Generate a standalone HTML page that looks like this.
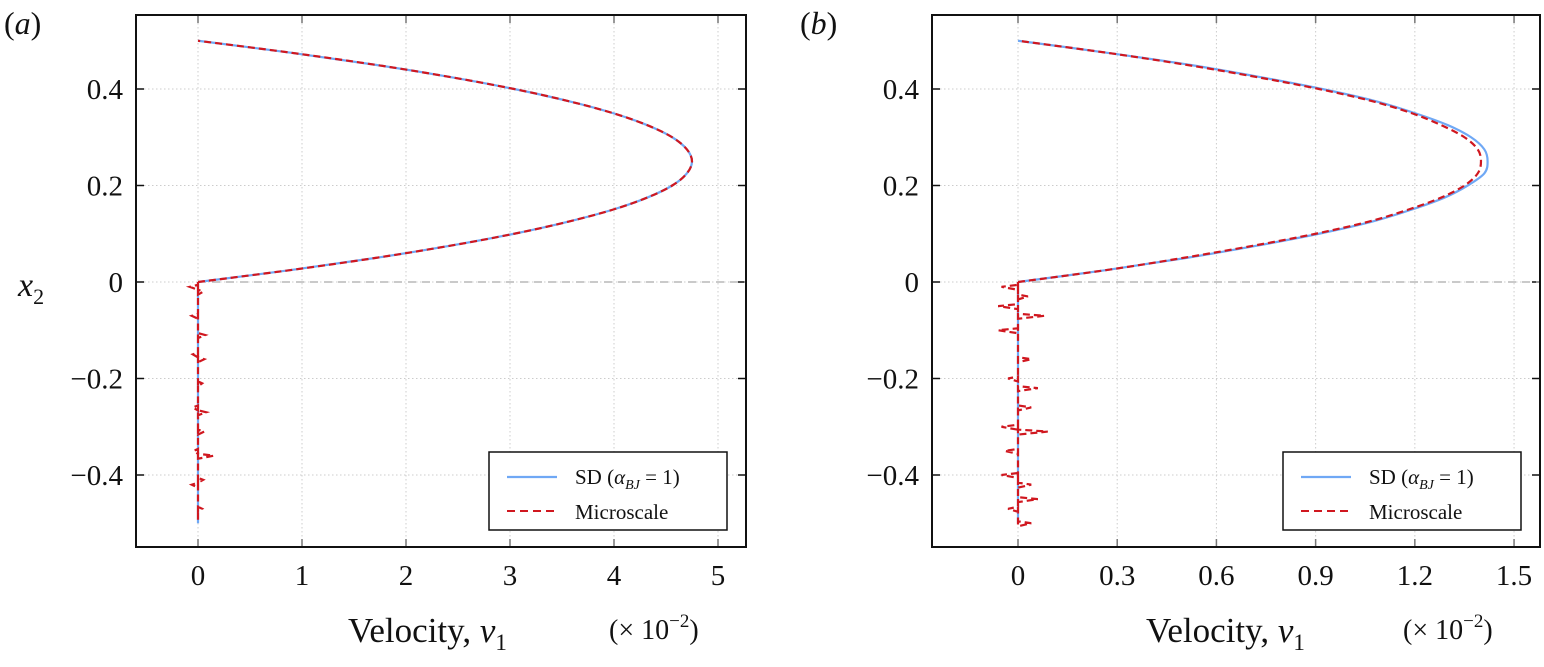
<!DOCTYPE html>
<html><head><meta charset="utf-8"><style>
body{margin:0;background:#fff}
svg text{font-family:"Liberation Serif",serif;fill:#111}
</style></head><body>
<svg id="s" width="1544" height="662" xmlns="http://www.w3.org/2000/svg"></svg>
<script>
const yTicks=[-0.4,-0.2,0,0.2,0.4];
const yTickLabels=["\u22120.4","\u22120.2","0","0.2","0.4"];
const x2Samples=[0,0.025,0.05,0.075,0.1,0.125,0.15,0.175,0.2,0.225,0.25,0.275,0.3,0.325,0.35,0.375,0.4,0.425,0.45,0.475,0.5];
const aTicks=[0,1,2,3,4,5];
const aTickLabels=["0","1","2","3","4","5"];
const aSD=[0,0.90,1.71,2.42,3.04,3.56,3.99,4.32,4.56,4.70,4.75,4.70,4.56,4.32,3.99,3.56,3.04,2.42,1.71,0.90,0];
const aMicro=[0,0.90,1.71,2.42,3.04,3.56,3.99,4.32,4.56,4.70,4.75,4.70,4.56,4.32,3.99,3.56,3.04,2.42,1.71,0.90,0];
const aNoiseY=[-0.01,-0.02,-0.07,-0.11,-0.15,-0.16,-0.21,-0.26,-0.27,-0.31,-0.35,-0.36,-0.41,-0.42,-0.47];
const aNoiseV=[-0.08,0.05,-0.06,0.07,-0.05,0.06,0.04,-0.05,0.08,0.06,-0.04,0.15,0.05,-0.06,0.04];
const bTicks=[0,0.3,0.6,0.9,1.2,1.5];
const bTickLabels=["0","0.3","0.6","0.9","1.2","1.5"];
const bSD=[0,0.27,0.51,0.72,0.91,1.07,1.19,1.29,1.36,1.41,1.42,1.41,1.37,1.30,1.20,1.08,0.92,0.73,0.52,0.27,0];
const bMicro=[0,0.27,0.50,0.71,0.90,1.06,1.18,1.28,1.35,1.39,1.40,1.39,1.35,1.28,1.19,1.07,0.91,0.72,0.51,0.27,0];
const bNoiseY=[-0.01,-0.03,-0.05,-0.07,-0.1,-0.16,-0.2,-0.22,-0.26,-0.3,-0.31,-0.35,-0.4,-0.42,-0.45,-0.47,-0.5];
const bNoiseV=[-0.05,0.03,-0.06,0.08,-0.06,0.04,-0.03,0.06,0.04,-0.05,0.09,-0.04,-0.05,0.04,0.06,-0.03,0.04];

const S=document.getElementById('s');
const NS="http://www.w3.org/2000/svg";
function el(t,a,p){const e=document.createElementNS(NS,t);for(const k in a)e.setAttribute(k,a[k]);(p||S).appendChild(e);return e;}
function spline(pts){let d="M"+pts[0][0]+","+pts[0][1];for(let i=0;i<pts.length-1;i++){const p0=pts[Math.max(0,i-1)],p1=pts[i],p2=pts[i+1],p3=pts[Math.min(pts.length-1,i+2)];d+=` C${p1[0]+(p2[0]-p0[0])/6},${p1[1]+(p2[1]-p0[1])/6} ${p2[0]-(p3[0]-p1[0])/6},${p2[1]-(p3[1]-p1[1])/6} ${p2[0]},${p2[1]}`;}return d;}

function panel(o){
 const L=o.L,R=o.R,T=15,B=547;
 const X=v=>o.x0px+(v-0)*o.k, Y=v=>282-v*482.5;
 const g=el('g',{});
 
 
 o.ticks.forEach((t,i)=>{
  const gl=el('line',{x1:X(t),x2:X(t),y1:T,y2:B,stroke:'#ccc','stroke-width':1,'stroke-dasharray':'1.5,2.5'},g);
  
  el('line',{x1:X(t),x2:X(t),y1:T,y2:T+8,stroke:'#777','stroke-width':1.5},g);
  el('line',{x1:X(t),x2:X(t),y1:B,y2:B-8,stroke:'#777','stroke-width':1.5},g);
  const tx=el('text',{x:X(t),y:585,'font-size':29,'text-anchor':'middle'},g);tx.textContent=o.labels[i];
  
 });
 yTicks.forEach((t,i)=>{
  const gl=el('line',{x1:L,x2:R,y1:Y(t),y2:Y(t),stroke:'#ccc','stroke-width':1,'stroke-dasharray':'1.5,2.5'},g);
  
  el('line',{x1:L,x2:L+8,y1:Y(t),y2:Y(t),stroke:'#111','stroke-width':1.5},g);
  el('line',{x1:R,x2:R-8,y1:Y(t),y2:Y(t),stroke:'#111','stroke-width':1.5},g);
  const tx=el('text',{x:L-13,y:Y(t)+10,'font-size':29,'text-anchor':'end'},g);tx.textContent=yTickLabels[i];
  
 });
 const z=el('line',{x1:X(0),x2:R,y1:Y(0),y2:Y(0),stroke:'#aaa','stroke-width':1.2,'stroke-dasharray':'8,6'},g);
 
 const sdPts=x2Samples.map((y,i)=>[X(o.sd[i]),Y(y)]);
 const sd=el('path',{d:spline(sdPts)+` M${X(0)},${Y(0)} L${X(0)},${Y(-0.5)}`,fill:'none',stroke:'#6fa8f5','stroke-width':2.2},g);
 
 const mPts=x2Samples.map((y,i)=>[X(o.mi[i]),Y(y)]);
 let nd=`M${X(0)},${Y(0)}`;
 o.ny.forEach((y,i)=>{nd+=` L${X(0)},${Y(y)+3} L${X(o.nv[i])},${Y(y)} L${X(0)},${Y(y)-2}`;});
 nd+=` L${X(0)},${Y(-0.5)}`;
 const m=el('path',{d:spline(mPts)+" "+nd,fill:'none',stroke:'#d0171f','stroke-width':2.2,'stroke-dasharray':'7,4'},g);
 
 const fr=el('rect',{x:L,y:T,width:R-L,height:B-T,fill:'none',stroke:'#111','stroke-width':2},g);
 
 const lg=el('g',{},g);
 const lx=R-257,ly=452;
 el('rect',{x:lx,y:ly,width:238,height:78,fill:'#fff',stroke:'#111','stroke-width':1.5},lg);
 el('line',{x1:lx+18,x2:lx+68,y1:ly+25,y2:ly+25,stroke:'#6fa8f5','stroke-width':2.2},lg);
 el('line',{x1:lx+18,x2:lx+68,y1:ly+59,y2:ly+59,stroke:'#d0171f','stroke-width':2,'stroke-dasharray':'8,5'},lg);
 const t1=el('text',{x:lx+86,y:ly+32,'font-size':21},lg);
 t1.innerHTML='SD (<tspan font-style="italic">α</tspan><tspan font-style="italic" font-size="14" dy="5">BJ</tspan><tspan dy="-5"> = 1)</tspan>';
 
 const t2=el('text',{x:lx+86,y:ly+67,'font-size':21},lg);t2.textContent='Microscale';
 
 const xl=el('text',{x:o.xlab,y:642,'font-size':35},g);
 xl.innerHTML='Velocity, <tspan font-style="italic">v</tspan><tspan font-size="23" dy="8">1</tspan>';
 
 const sc=el('text',{x:R-137,y:639,'font-size':28},g);
 sc.innerHTML='(× 10<tspan font-size="19" dy="-12">−2</tspan><tspan dy="12">)</tspan>';
 
 const pl=el('text',{x:L-132,y:34,'font-size':32},g);
 pl.innerHTML='(<tspan font-style="italic">'+o.tag+'</tspan>)';
 
}
panel({name:'panel-a',L:136,R:746,x0px:198,k:104,ticks:aTicks,labels:aTickLabels,sd:aSD,mi:aMicro,ny:aNoiseY,nv:aNoiseV,xlab:348,tag:'a'});
panel({name:'panel-b',L:932,R:1540,x0px:1018,k:330.7,ticks:bTicks,labels:bTickLabels,sd:bSD,mi:bMicro,ny:bNoiseY,nv:bNoiseV,xlab:1146,tag:'b'});
const yl=el('text',{x:18,y:296,'font-size':34,'font-style':'italic'});
yl.innerHTML='x<tspan font-size="22" dy="8" font-style="normal">2</tspan>';


</script>
</body></html>
